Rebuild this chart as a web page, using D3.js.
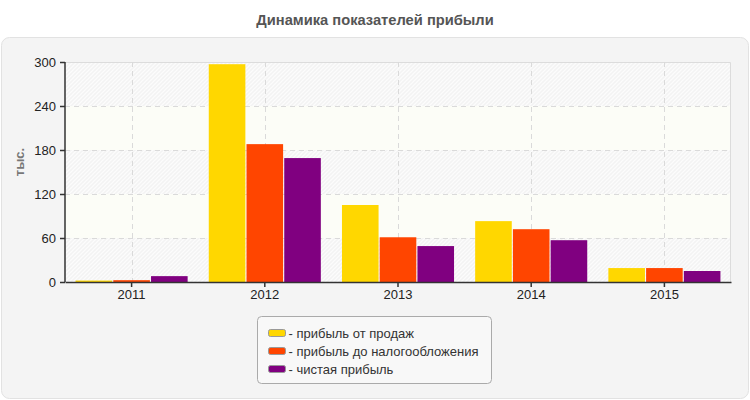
<!DOCTYPE html>
<html>
<head>
  <meta charset="utf-8" />
  <script src="https://d3js.org/d3.v7.min.js"></script>
  <style>
    * { margin: 0; padding: 0; }
    body { background: #ffffff; width: 750px; height: 400px; overflow: hidden; }
    svg { display: block; font-family: "Liberation Sans", Arial, sans-serif; }
  </style>
</head>
<body>
  <svg width="750" height="400"></svg>

  <script>
    // chart data
    const years = ["2011", "2012", "2013", "2014", "2015"];
    const seriesNames = ["- прибыль от продаж", "- прибыль до налогообложения", "- чистая прибыль"];
    const seriesColors = ["#ffd700", "#ff4500", "#800080"];
    const salesProfit = [2, 297, 105, 83, 19];
    const pretaxProfit = [2.5, 188, 61, 72, 19];
    const netProfit = [8, 169, 49, 57, 15];
    const yTicks = [0, 60, 120, 180, 240, 300];

    const series = [salesProfit, pretaxProfit, netProfit];

    const svg = d3.select("svg");
    const margin = { top: 62, right: 19, bottom: 118, left: 65 };
    const width = 750 - margin.left - margin.right;
    const height = 400 - margin.top - margin.bottom;

    // title
    svg.append("text")
      .attr("x", 375).attr("y", 25)
      .attr("text-anchor", "middle")
      .style("font-size", "14.7px").style("font-weight", "bold")
      .style("fill", "#555")
      .text("Динамика показателей прибыли");

    // outer panel
    svg.append("rect")
      .attr("x", 1.5).attr("y", 37.5)
      .attr("width", 747).attr("height", 361)
      .attr("rx", 8)
      .style("fill", "#f4f4f4").style("stroke", "#e2e2e2");

    // hatch pattern
    const defs = svg.append("defs");
    const pat = defs.append("pattern")
      .attr("id", "hatch")
      .attr("patternUnits", "userSpaceOnUse")
      .attr("width", 4).attr("height", 4);
    pat.append("rect").attr("width", 4).attr("height", 4).style("fill", "#f3f3f3");
    pat.append("path")
      .attr("d", "M-1,1 l2,-2 M0,4 l4,-4 M3,5 l2,-2")
      .style("stroke", "#fcfcfc").style("stroke-width", 1.3);

    const g = svg.append("g").attr("transform", `translate(${margin.left},${margin.top})`);

    const x = d3.scaleBand().domain(years).range([0, width]);
    const y = d3.scaleLinear().domain([0, 300]).range([height, 0]);
    const inner = d3.scaleBand().domain(d3.range(series.length))
      .range([0, x.bandwidth()]).paddingOuter(0.28).paddingInner(0.03);

    // alternating bands
    g.selectAll("rect.band")
      .data(d3.pairs(yTicks))
      .join("rect")
      .attr("class", "band")
      .attr("x", 0).attr("width", width)
      .attr("y", d => y(d[1])).attr("height", d => y(d[0]) - y(d[1]))
      .style("fill", (d, i) => i % 2 === 0 ? "url(#hatch)" : "#fcfdf7");

    // plot border (top/right)
    g.append("path")
      .attr("d", `M0,0.5 H${width - 0.5} V${height}`)
      .style("fill", "none").style("stroke", "#dcdcdc");

    // grid
    g.selectAll("line.hgrid")
      .data(yTicks.slice(1, -1))
      .join("line")
      .attr("class", "hgrid")
      .attr("x1", 0).attr("x2", width)
      .attr("y1", d => Math.round(y(d)) + 0.5).attr("y2", d => Math.round(y(d)) + 0.5)
      .style("stroke", "#dadada").style("stroke-dasharray", "5,4");

    g.selectAll("line.vgrid")
      .data(years)
      .join("line")
      .attr("class", "vgrid")
      .attr("x1", d => Math.round(x(d) + x.bandwidth() / 2) + 0.5)
      .attr("x2", d => Math.round(x(d) + x.bandwidth() / 2) + 0.5)
      .attr("y1", 0).attr("y2", height)
      .style("stroke", "#dadada").style("stroke-dasharray", "5,4");

    // bars
    series.forEach((vals, si) => {
      g.selectAll(`rect.s${si}`)
        .data(vals)
        .join("rect")
        .attr("class", `s${si}`)
        .attr("x", (d, i) => x(years[i]) + inner(si))
        .attr("width", inner.bandwidth())
        .attr("y", d => y(d))
        .attr("height", d => height - y(d))
        .style("fill", seriesColors[si]);
    });

    // axes
    const yAxis = g.append("g")
      .call(d3.axisLeft(y).tickValues(yTicks).tickSize(5).tickPadding(4));
    const xAxis = g.append("g")
      .attr("transform", `translate(0,${height})`)
      .call(d3.axisBottom(x).tickSize(5).tickPadding(3).tickSizeOuter(0));

    [yAxis, xAxis].forEach(ax => {
      ax.select(".domain").style("stroke", "#333").style("stroke-width", 1.5);
      ax.selectAll(".tick line").style("stroke", "#333").style("stroke-width", 1.5);
      ax.selectAll(".tick text")
        .style("font-size", "13px").style("fill", "#222")
        .style("font-family", "'Liberation Sans', Arial, sans-serif");
    });
    yAxis.select(".domain").attr("d", `M0,0 V${height}`);
    yAxis.selectAll(".tick text").attr("dy", "0.35em");

    // y label
    svg.append("text")
      .attr("transform", "translate(24,162) rotate(-90)")
      .attr("text-anchor", "middle")
      .style("font-size", "13px").style("font-weight", "bold")
      .style("fill", "#777")
      .text("тыс.");

    // legend
    const legend = svg.append("g").attr("transform", "translate(257.5,316.5)");
    legend.append("rect")
      .attr("width", 234).attr("height", 67).attr("rx", 4)
      .style("fill", "#f8f8f8").style("stroke", "#aaa");

    const items = legend.selectAll("g.item")
      .data(seriesNames)
      .join("g")
      .attr("class", "item")
      .attr("transform", (d, i) => `translate(11,${13 + i * 18})`);
    items.append("rect")
      .attr("width", 17).attr("height", 7).attr("rx", 2)
      .style("fill", (d, i) => seriesColors[i])
      .style("stroke", "#999");
    items.append("text")
      .attr("x", 20).attr("y", 8.5)
      .style("font-size", "13px").style("fill", "#333")
      .text(d => d);
  </script>
</body>
</html>
